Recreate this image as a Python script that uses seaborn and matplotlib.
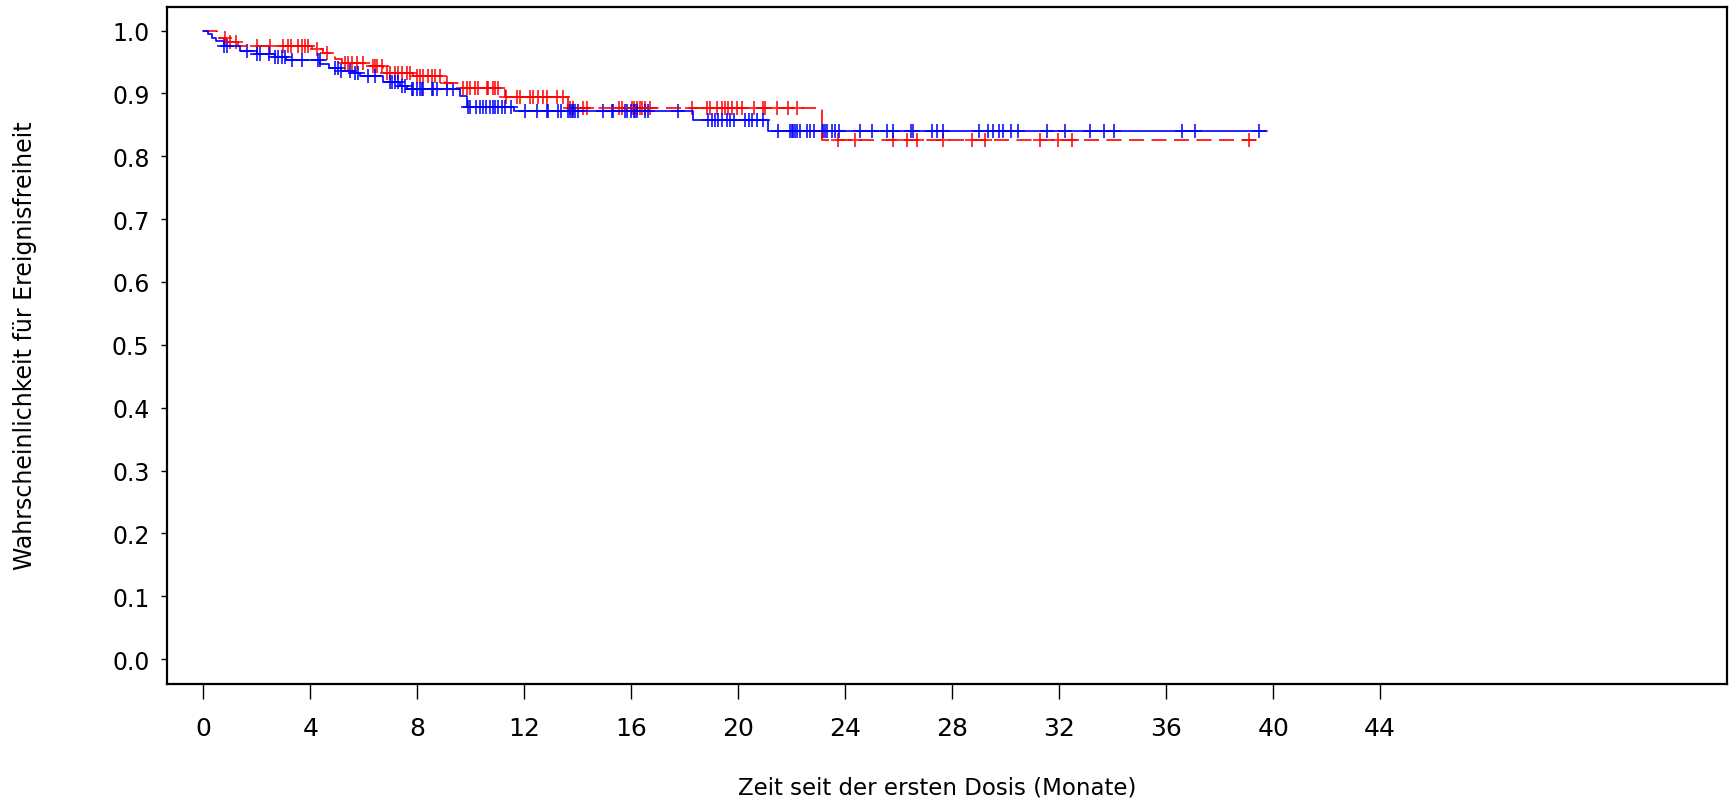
import seaborn as sns
import pandas as pd
import matplotlib.pyplot as plt
import numpy as np

# step curves (time of drop, survival after drop)
blue_times = [0.15, 0.3, 0.45, 0.75, 1.37, 2.0, 2.67, 3.1, 4.36, 4.7, 5.15, 5.65, 5.85,
              6.7, 7.35, 7.6, 9.6, 9.84, 11.6, 18.3, 21.1]
blue_surv = [0.994, 0.989, 0.984, 0.976, 0.968, 0.962, 0.958, 0.953, 0.947, 0.941, 0.936,
             0.932, 0.928, 0.919, 0.912, 0.907, 0.896, 0.878, 0.872, 0.857, 0.841]
blue_end = 39.75

red_times = [0.5, 0.85, 1.3, 4.05, 4.48, 4.73, 4.92, 5.17, 6.16, 6.72, 7.85, 9.03, 9.59,
             11.27, 13.63, 23.14]
red_surv = [0.989, 0.982, 0.976, 0.971, 0.965, 0.960, 0.955, 0.949, 0.943, 0.932, 0.928,
            0.917, 0.908, 0.895, 0.877, 0.826]
red_end = 39.4

# censored observations
blue_cens = [0.78, 0.87, 1.62, 2.0, 2.12, 2.45, 2.67, 2.8, 2.95, 3.05, 3.3, 3.7, 4.3, 4.35,
             4.9, 5.04, 5.16, 5.47, 5.66, 5.78, 6.16, 6.41, 6.97, 7.04, 7.16, 7.29, 7.41,
             7.54, 7.79, 7.85, 7.97, 8.1, 8.16, 8.22, 8.53, 8.6, 8.72, 9.1, 9.34, 9.9, 9.96,
             10.2, 10.33, 10.46, 10.58, 10.71, 10.83, 10.9, 11.02, 11.15, 11.27, 11.5, 12.02,
             12.46, 12.83, 12.9, 13.27, 13.37, 13.64, 13.7, 13.77, 13.83, 13.89, 14.02, 14.95,
             15.27, 15.33, 15.76, 15.83, 16.0, 16.08, 16.14, 16.2, 16.5, 16.63, 17.75, 18.88,
             19.0, 19.13, 19.25, 19.38, 19.57, 19.69, 19.82, 20.25, 20.38, 20.5, 20.69, 20.94,
             21.5, 21.93, 22.0, 22.06, 22.12, 22.18, 22.31, 22.56, 22.69, 22.81, 23.12, 23.18,
             23.25, 23.31, 23.5, 23.62, 23.75, 24.55, 24.99, 25.55, 25.8, 26.46, 26.54, 27.23,
             27.42, 27.67, 28.98, 29.35, 29.54, 29.73, 29.9, 30.2, 30.45, 31.53, 32.22, 33.15,
             33.68, 34.05, 36.58, 37.08, 39.45]
red_cens = [0.8, 0.99, 1.22, 1.99, 2.49, 2.98, 3.17, 3.29, 3.55, 3.67, 3.79, 3.92, 4.23, 4.6,
            5.29, 5.42, 5.54, 5.73, 5.98, 6.35, 6.41, 6.48, 6.66, 6.85, 6.97, 7.16, 7.29, 7.41,
            7.6, 7.72, 7.97, 8.1, 8.22, 8.41, 8.53, 8.66, 8.85, 9.1, 9.72, 9.84, 9.96, 10.15,
            10.27, 10.59, 10.65, 10.84, 10.9, 11.02, 11.3, 11.71, 11.83, 12.21, 12.33, 12.52,
            12.71, 12.83, 13.21, 13.45, 13.7, 13.83, 14.2, 14.33, 15.52, 15.65, 16.02, 16.08,
            16.2, 16.33, 16.39, 16.52, 16.7, 18.26, 18.82, 18.94, 19.2, 19.38, 19.5, 19.63,
            19.76, 19.95, 20.14, 20.57, 20.94, 21.0, 21.44, 21.87, 22.18, 23.74, 24.36, 25.8,
            26.3, 26.67, 27.67, 28.73, 29.23, 31.28, 31.97, 32.47, 39.1]

xticks = list(range(0, 45, 4))
yticks = [round(i * 0.1, 1) for i in range(11)]


def curve(times, surv, end):
    t = np.array([0.0] + times + [end])
    s = np.array([1.0] + surv + [surv[-1]])
    return pd.DataFrame({'t': t, 's': s})


def cens_points(times, surv, cens):
    t = np.array([0.0] + times)
    s = np.array([1.0] + surv)
    c = np.array(cens)
    idx = np.searchsorted(t, c, side='right') - 1
    return pd.DataFrame({'t': c, 's': s[idx]})


sns.set_style('white')
plt.rcParams['font.family'] = ['DejaVu Sans']
plt.rcParams['text.color'] = 'black'
plt.rcParams['axes.labelcolor'] = 'black'
plt.rcParams['xtick.color'] = 'black'
plt.rcParams['ytick.color'] = 'black'

fig = plt.figure(figsize=(17.34, 8.04), dpi=100)
ax = fig.add_axes([0.0963, 0.1485, 0.8997, 0.8419])

red_df = curve(red_times, red_surv, red_end)
blue_df = curve(blue_times, blue_surv, blue_end)

sns.lineplot(data=red_df, x='t', y='s', color='red', linewidth=1.2,
             drawstyle='steps-post', estimator=None, sort=False, ax=ax)
ax.lines[-1].set_dashes((9, 4.5))
sns.scatterplot(data=cens_points(red_times, red_surv, red_cens), x='t', y='s',
                marker='+', s=100, color='red', linewidth=1.3, alpha=0.85, ax=ax)

sns.lineplot(data=blue_df, x='t', y='s', color='blue', linewidth=1.2,
             drawstyle='steps-post', estimator=None, sort=False, ax=ax)
sns.scatterplot(data=cens_points(blue_times, blue_surv, blue_cens), x='t', y='s',
                marker='+', s=100, color='blue', linewidth=1.3, alpha=0.85, ax=ax)

ax.set_xlim(-1.365, 56.97)
ax.set_ylim(-0.039, 1.038)
ax.set_xticks(xticks)
ax.set_yticks(yticks)
ax.set_yticklabels([f'{v:.1f}' for v in yticks])
ax.tick_params(axis='x', direction='out', length=11, width=1,
               labelsize=18, pad=12, bottom=True)
ax.tick_params(axis='y', direction='out', length=4.5, width=1,
               labelsize=17, pad=8, left=True)
for sp in ax.spines.values():
    sp.set_color('black')
    sp.set_linewidth(1.6)

ax.set_xlabel('Zeit seit der ersten Dosis (Monate)', fontsize=16.5)
ax.xaxis.set_label_coords(0.494, -0.136)
ax.set_ylabel('Wahrscheinlichkeit für Ereignisfreiheit', fontsize=17)
ax.yaxis.set_label_coords(-0.083, 0.5)

plt.savefig('out.png', dpi=100)
